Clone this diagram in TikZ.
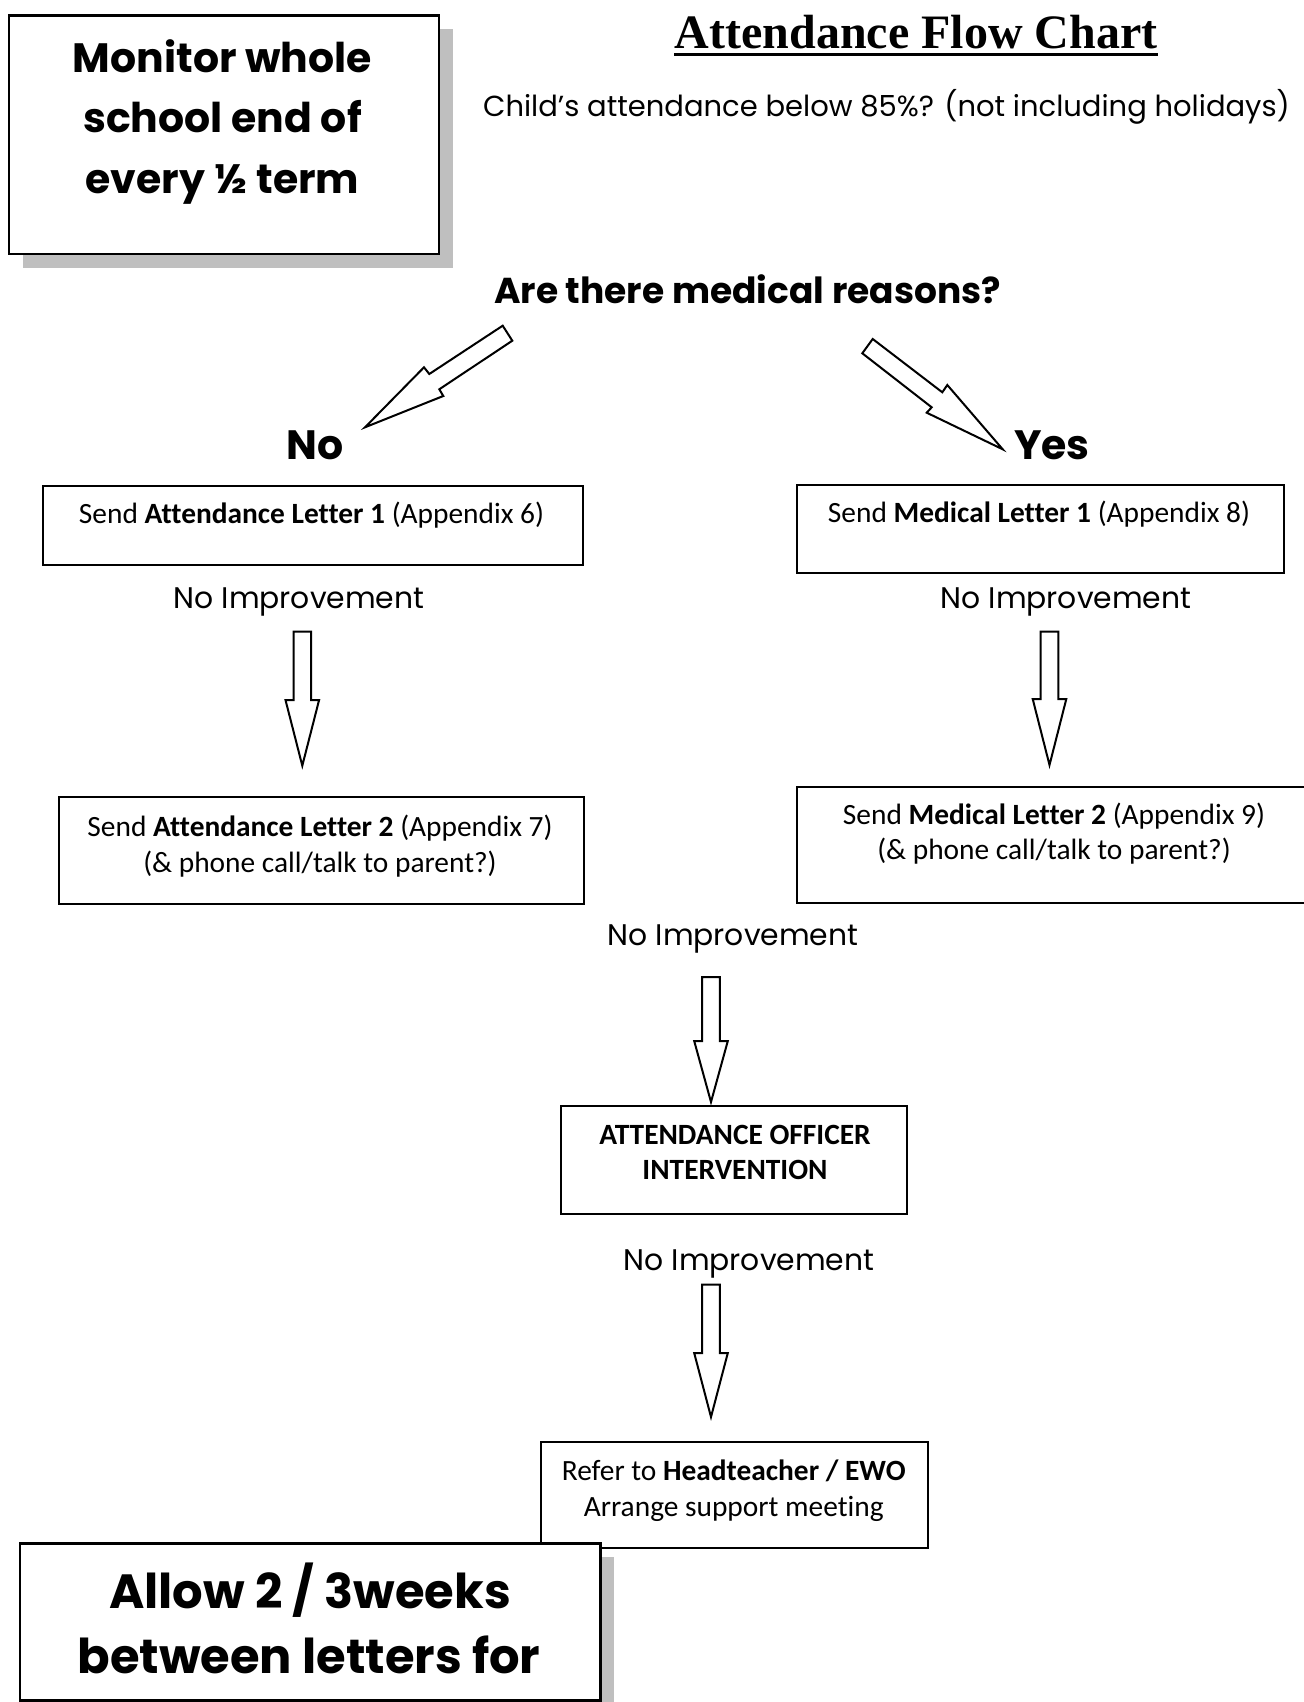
\documentclass[tikz,border=0pt]{standalone}
\usepackage{fontspec}
\setmainfont{Carlito}[Ligatures=NoCommon]
\newfontfamily\comic{Poppins}
\newfontfamily\titlefont{Liberation Serif}
\newcommand\blkdown[3]{%
  \draw[blk,shift={(#1)}] (-8.8,0) -- (-8.8,#2) -- (-16.8,#2) -- (0,#3) -- (16.8,#2) -- (8.8,#2) -- (8.8,0) -- cycle;}
\begin{document}
\begin{tikzpicture}[x=0.5pt,y=-0.5pt,
  box/.style={draw, line width=1pt, fill=white, inner sep=0pt, anchor=north west},
  sbox/.style={draw, line width=1.3pt, fill=white, inner sep=0pt, anchor=north west},
  shadowbox/.style={fill=black!25},
  blk/.style={draw, line width=1pt, fill=white, line join=miter},
  t/.style={inner sep=0pt, anchor=base},
  cb/.style={t, font=\comic\bfseries\fontsize{20.5}{24}\selectfont},
  cr/.style={t, font=\comic\fontsize{14.9}{18}\selectfont},
  cal/.style={t, font=\fontsize{14.7}{18}\selectfont}]
\useasboundingbox (0,0) rectangle (1303,1702);
\fill[white] (0,0) rectangle (1303,1702);

% Monitor box with shadow
\fill[shadowbox] (22.5,29.5) rectangle (452.5,268);
\node[sbox, minimum width=215pt, minimum height=119.25pt] (mon) at (7.5,14) {};
\node[cb] (mon1) at (222.5,73) {Monitor whole};
\node[cb] (mon2) at (222.5,133) {school end of};
\node[cb] (mon3) at (222.5,193) {every ½ term};

% Title
\node[t, font=\titlefont\bfseries\fontsize{24}{28}\selectfont] (title) at (916,49) {Attendance Flow Chart};
\draw[line width=1.5pt] ([yshift=-3pt]title.base west) -- ([yshift=-3pt]title.base east);

\node[t, font=\comic\fontsize{14.5}{18}\selectfont] (child) at (886.5,117) {Child’s attendance below 85\%? (not including holidays)};

\node[cb, font=\comic\bfseries\fontsize{18}{22}\selectfont] (med) at (747.5,303) {Are there medical reasons?};

% diagonal arrows
\draw[blk] (502.7,325.7) -- (429.3,374) -- (424,367.3) -- (365,427.3) -- (443.3,396) -- (439.3,389.3) -- (512.3,340.7) -- cycle;
\draw[blk] (872.7,339) -- (942.3,392.3) -- (947.3,385) -- (1002.7,449.3) -- (926.7,412.7) -- (931.7,407.3) -- (862.3,353.3) -- cycle;

\node[cb] (no) at (315,459) {No};
\node[cb] (yes) at (1052,459) {Yes};

% Letter 1 boxes
\node[box, minimum width=270.25pt, minimum height=39.25pt] (a1) at (41.5,485) {};
\node[cal] (a1t) at (311.5,523) {Send \textbf{Attendance Letter 1} (Appendix 6)};
\node[box, minimum width=243.5pt, minimum height=44pt] (m1) at (796,484) {};
\node[cal] (m1t) at (1039,522.5) {Send \textbf{Medical Letter 1} (Appendix 8)};

\node[cr] (ni1) at (299,608) {No Improvement};
\node[cr] (ni2) at (1066,608) {No Improvement};

\coordinate (va) at (302.3,631.7);
\blkdown{va}{68.3}{134}
\coordinate (vm) at (1049.5,631.7);
\blkdown{vm}{67.3}{133.3}

% Letter 2 boxes
\node[box, minimum width=262.75pt, minimum height=53.5pt] (a2) at (57.5,796) {};
\node[cal] (a2t1) at (320,836.5) {Send \textbf{Attendance Letter 2} (Appendix 7)};
\node[cal] (a2t2) at (320,872.5) {(\& phone call/talk to parent?)};
\node[box, minimum width=257pt, minimum height=58pt] (m2) at (796,786) {};
\node[cal] (m2t1) at (1054,824) {Send \textbf{Medical Letter 2} (Appendix 9)};
\node[cal] (m2t2) at (1054,859) {(\& phone call/talk to parent?)};

\node[cr] (ni3) at (733,945) {No Improvement};
\coordinate (v3) at (711,977);
\blkdown{v3}{64}{125}

% Attendance officer
\node[box, minimum width=173pt, minimum height=53.75pt] (ao) at (560,1105) {};
\node[cal, font=\bfseries\fontsize{14.7}{18}\selectfont] (ao1) at (735,1144) {ATTENDANCE OFFICER};
\node[cal, font=\bfseries\fontsize{14.7}{18}\selectfont] (ao2) at (735,1179.5) {INTERVENTION};

\node[cr] (ni4) at (749,1270.5) {No Improvement};
\coordinate (v4) at (711,1284.5);
\blkdown{v4}{68.5}{132.5}

% Headteacher
\node[box, minimum width=193.5pt, minimum height=53pt] (ht) at (540,1441) {};
\node[cal] (ht1) at (733.7,1480) {Refer to \textbf{Headteacher / EWO}};
\node[cal] (ht2) at (733.7,1516) {Arrange support meeting};

% Allow box with shadow
\fill[shadowbox] (33.5,1557) rectangle (614,1714);
\node[sbox, minimum width=290.25pt, minimum height=78.5pt] (allow) at (18.5,1542) {};
\node[t, font=\comic\bfseries\fontsize{24}{28}\selectfont] (al1) at (310,1608) {Allow 2 / 3weeks};
\node[t, font=\comic\bfseries\fontsize{24}{28}\selectfont] (al2) at (309,1673) {between letters for};
\end{tikzpicture}
\end{document}
